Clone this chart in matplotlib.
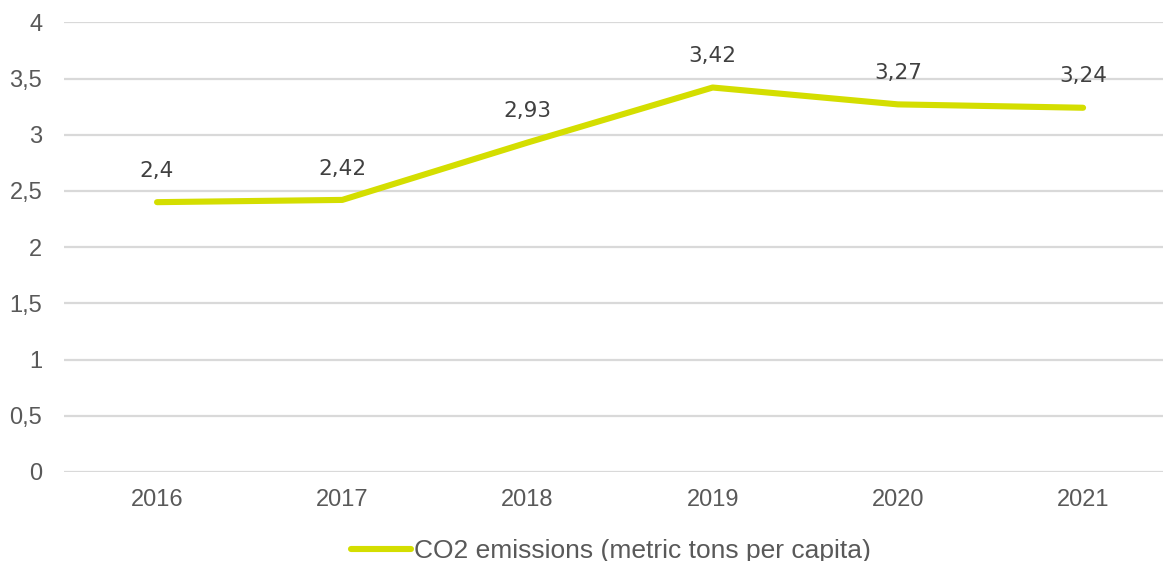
import matplotlib
matplotlib.use("Agg")
import matplotlib.pyplot as plt
from matplotlib.ticker import FuncFormatter, MultipleLocator

years = ["2016", "2017", "2018", "2019", "2020", "2021"]
co2_per_capita = [2.40, 2.42, 2.93, 3.42, 3.27, 3.24]
series_name = "CO2 emissions (metric tons per capita)"

line_color = "#D4DE00"
text_color = "#595959"
grid_color = "#D9D9D9"


def comma_decimal(v):
    s = f"{v:g}"
    return s.replace(".", ",")


fig = plt.figure(figsize=(11.63, 5.61), dpi=100)
ax = fig.add_axes([0.0554, 0.1588, 0.9555, 0.8014])

x = list(range(len(years)))
line, = ax.plot(x, co2_per_capita, color=line_color, lw=4.4,
                solid_capstyle="round", solid_joinstyle="round",
                label=series_name, zorder=3)

for xi, v in zip(x, co2_per_capita):
    ax.annotate(comma_decimal(v), (xi, v), xytext=(0, 22.5), textcoords="offset points",
                ha="center", va="center", fontsize=15.5, color="#404040",
                family="DejaVu Sans")

ax.set_xlim(-0.5, len(years) - 0.5)
ax.set_ylim(0, 4)
ax.yaxis.set_major_locator(MultipleLocator(0.5))
ax.yaxis.set_major_formatter(FuncFormatter(lambda v, p: comma_decimal(v)))
ax.set_xticks(x)
ax.set_xticklabels(years)

ax.grid(axis="y", color=grid_color, lw=1.6)
ax.set_axisbelow(True)
for s in ax.spines.values():
    s.set_visible(False)
ax.tick_params(axis="both", length=0, colors=text_color, labelsize=17)
ax.tick_params(axis="y", pad=16)
ax.tick_params(axis="x", pad=12)
for lab in ax.get_xticklabels() + ax.get_yticklabels():
    lab.set_family("Liberation Sans")

leg = fig.legend(handles=[line], loc="center", bbox_to_anchor=(0.525, 0.0175),
                 frameon=False, prop={"family": "Liberation Sans", "size": 19},
                 handlelength=2.27, handletextpad=0.11, borderaxespad=0)
for t in leg.get_texts():
    t.set_color(text_color)

fig.savefig("out.png", dpi=100)
